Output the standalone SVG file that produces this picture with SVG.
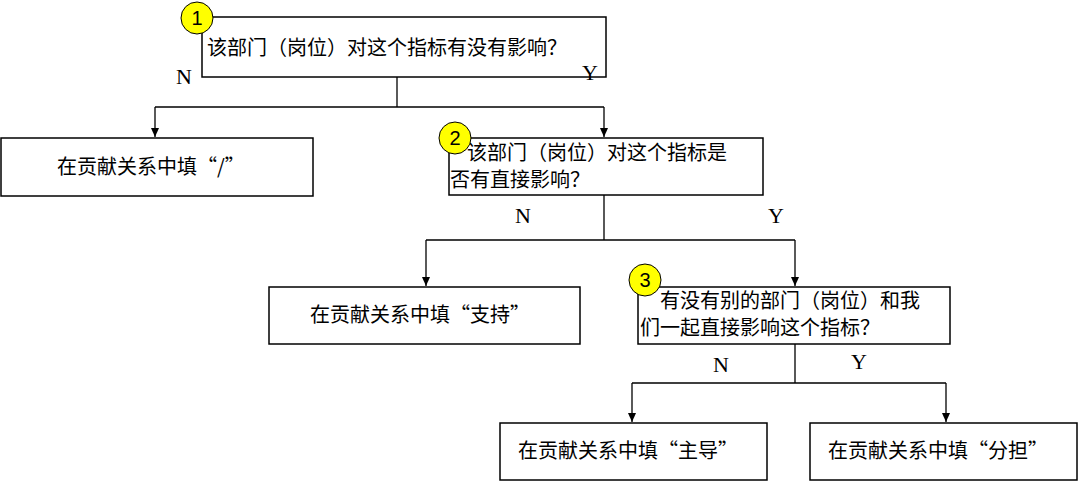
<svg xmlns="http://www.w3.org/2000/svg" width="1080" height="482" viewBox="0 0 1080 482">
<style>
.box{fill:#fff;stroke:#000;stroke-width:1.5}
.t{font-family:"Noto Sans CJK SC",sans-serif;font-size:20px;fill:#000}
.l{font-family:"Liberation Serif",serif;font-size:22px;fill:#000}
.c{fill:#ffff00;stroke:#000;stroke-width:1}
.n{font-family:"Liberation Sans",sans-serif;font-size:20px;fill:#000;text-anchor:middle}
.w{fill:none;stroke:#000;stroke-width:1.3}
</style>
<defs><marker id="a" markerWidth="9" markerHeight="8" refX="9" refY="4" orient="auto" markerUnits="userSpaceOnUse"><path d="M0,0 L9,4 L0,8 z" fill="#000"/></marker></defs>
<rect width="1080" height="482" fill="#fff"/>
<g id="connectors">
<path class="w" d="M397,77 V107"/><path class="w" d="M155,107 H604"/>
<path class="w" d="M155,107 V137" marker-end="url(#a)"/><path class="w" d="M604,107 V137" marker-end="url(#a)"/>
<path class="w" d="M604,195 V240 M426,240 H795"/>
<path class="w" d="M426,240 V286" marker-end="url(#a)"/><path class="w" d="M795,240 V286" marker-end="url(#a)"/>
<path class="w" d="M795,344 V383 M632,383 H946"/>
<path class="w" d="M632,383 V422" marker-end="url(#a)"/><path class="w" d="M946,383 V422" marker-end="url(#a)"/>
</g>
<g id="q1"><rect class="box" x="202" y="17" width="404" height="60"/><text class="t" x="207" y="55">该部门（岗位）对这个指标有没有影响？</text><circle class="c" cx="197" cy="18" r="16"/><text class="n" x="197" y="25">1</text></g>
<g id="r1"><rect class="box" x="1" y="138" width="312" height="58"/><text class="t" x="57" y="174">在贡献关系中填“/”</text></g>
<g id="q2"><rect class="box" x="449" y="138" width="314" height="57"/><text class="t" x="467" y="160">该部门（岗位）对这个指标是</text><text class="t" x="450" y="187">否有直接影响？</text><circle class="c" cx="455" cy="138" r="16"/><text class="n" x="455" y="145">2</text></g>
<g id="r2"><rect class="box" x="269" y="287" width="311" height="57"/><text class="t" x="310" y="322">在贡献关系中填“支持”</text></g>
<g id="q3"><rect class="box" x="638" y="287" width="312" height="57"/><text class="t" x="660" y="308">有没有别的部门（岗位）和我</text><text class="t" x="640" y="335">们一起直接影响这个指标？</text><circle class="c" cx="645" cy="280" r="16"/><text class="n" x="645" y="287">3</text></g>
<g id="r3"><rect class="box" x="500" y="423" width="267" height="57"/><text class="t" x="518" y="458">在贡献关系中填“主导”</text></g>
<g id="r4"><rect class="box" x="810" y="423" width="267" height="57"/><text class="t" x="828" y="458">在贡献关系中填“分担”</text></g>
<g id="labels">
<text class="l" x="176" y="84">N</text><text class="l" x="582" y="80">Y</text>
<text class="l" x="515" y="223">N</text><text class="l" x="768" y="223">Y</text>
<text class="l" x="713" y="372">N</text><text class="l" x="851" y="369">Y</text>
</g>
</svg>
